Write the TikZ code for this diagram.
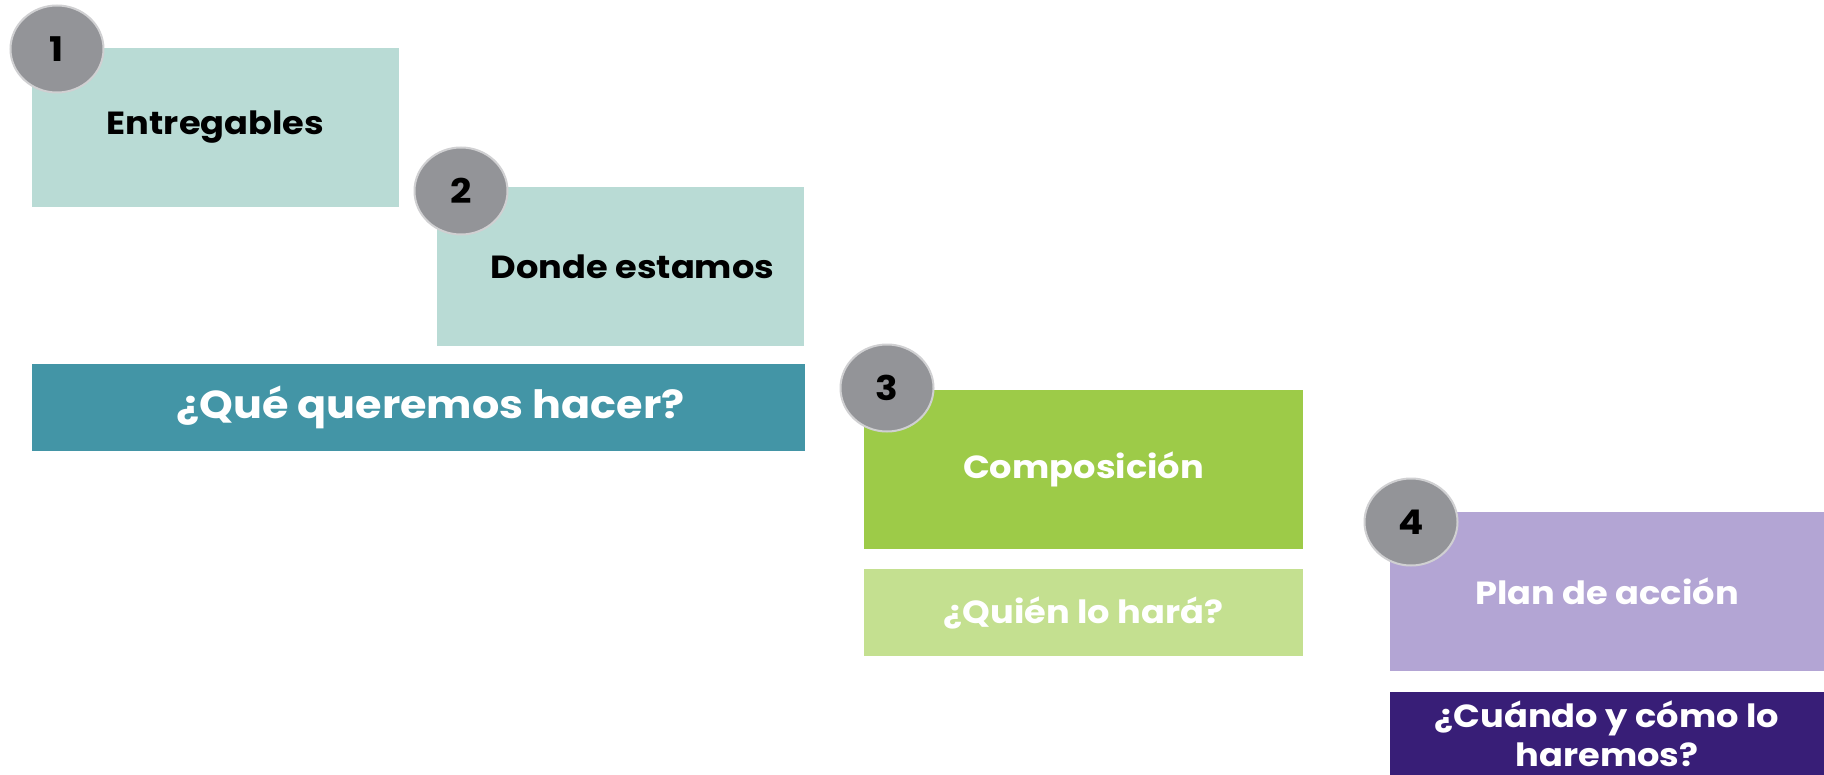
\documentclass[tikz,border=0pt]{standalone}
\usepackage{fontspec}
\setmainfont{Poppins}[FakeStretch=1.1]
\usetikzlibrary{shapes.geometric}
\definecolor{mint}{HTML}{B9DBD5}
\definecolor{tealbar}{HTML}{4395A6}
\definecolor{greybadge}{HTML}{939498}
\definecolor{greyrim}{HTML}{D0D0D2}
\definecolor{leaf}{HTML}{9DCB48}
\definecolor{paleleaf}{HTML}{C4E090}
\definecolor{lavender}{HTML}{B3A5D4}
\definecolor{deeppurple}{HTML}{381E77}
\begin{document}
\begin{tikzpicture}[x=0.5pt,y=-0.5pt,
	box/.style={rectangle, inner sep=0pt, font=\bfseries\fontsize{16}{19.5}\selectfont},
	bigbox/.style={box, font=\bfseries\fontsize{19.5}{22}\selectfont},
	badge/.style={ellipse, fill=greybadge, draw=greyrim, line width=1pt, minimum width=46.5pt, minimum height=43.5pt, inner sep=0pt, font=\bfseries\fontsize{17}{17}\selectfont}]
			\useasboundingbox[fill=white] (0,0) rectangle (1824,775);
			% step 1 and 2
			\node[box,fill=mint,minimum width=183.5pt,minimum height=79.5pt] (entregables) at (215.5,127.5) {Entregables};
			\node[box,fill=mint,minimum width=183.5pt,minimum height=79.5pt] (donde) at (620.5,266.5) {\hspace*{12pt}Donde estamos};
			\node[bigbox,fill=tealbar,text=white,minimum width=386.5pt,minimum height=43.5pt] (que) at (418.5,407.5) {\hspace*{12pt}¿Qué queremos hacer?};
			% step 3
			\node[box,fill=leaf,text=white,minimum width=219.5pt,minimum height=79.5pt] (composicion) at (1083.5,469.5) {Composición};
			\node[box,fill=paleleaf,text=white,minimum width=219.5pt,minimum height=43.5pt] (quien) at (1083.5,612.5) {¿Quién lo hará?};
			% step 4
			\node[box,fill=lavender,text=white,minimum width=217pt,minimum height=79.5pt] (plan) at (1607,591.5) {Plan de acción};
			\node[box,fill=deeppurple,text=white,align=center,minimum width=217pt,minimum height=42pt] (cuando) at (1607,734) {¿Cuándo y cómo lo\\haremos?};
			\node[badge] (n1) at (57,49) {1};
			\node[badge] (n2) at (461,191) {2};
			\node[badge] (n3) at (887,388) {3};
			\node[badge] (n4) at (1411,522) {4};
\end{tikzpicture}
\end{document}
